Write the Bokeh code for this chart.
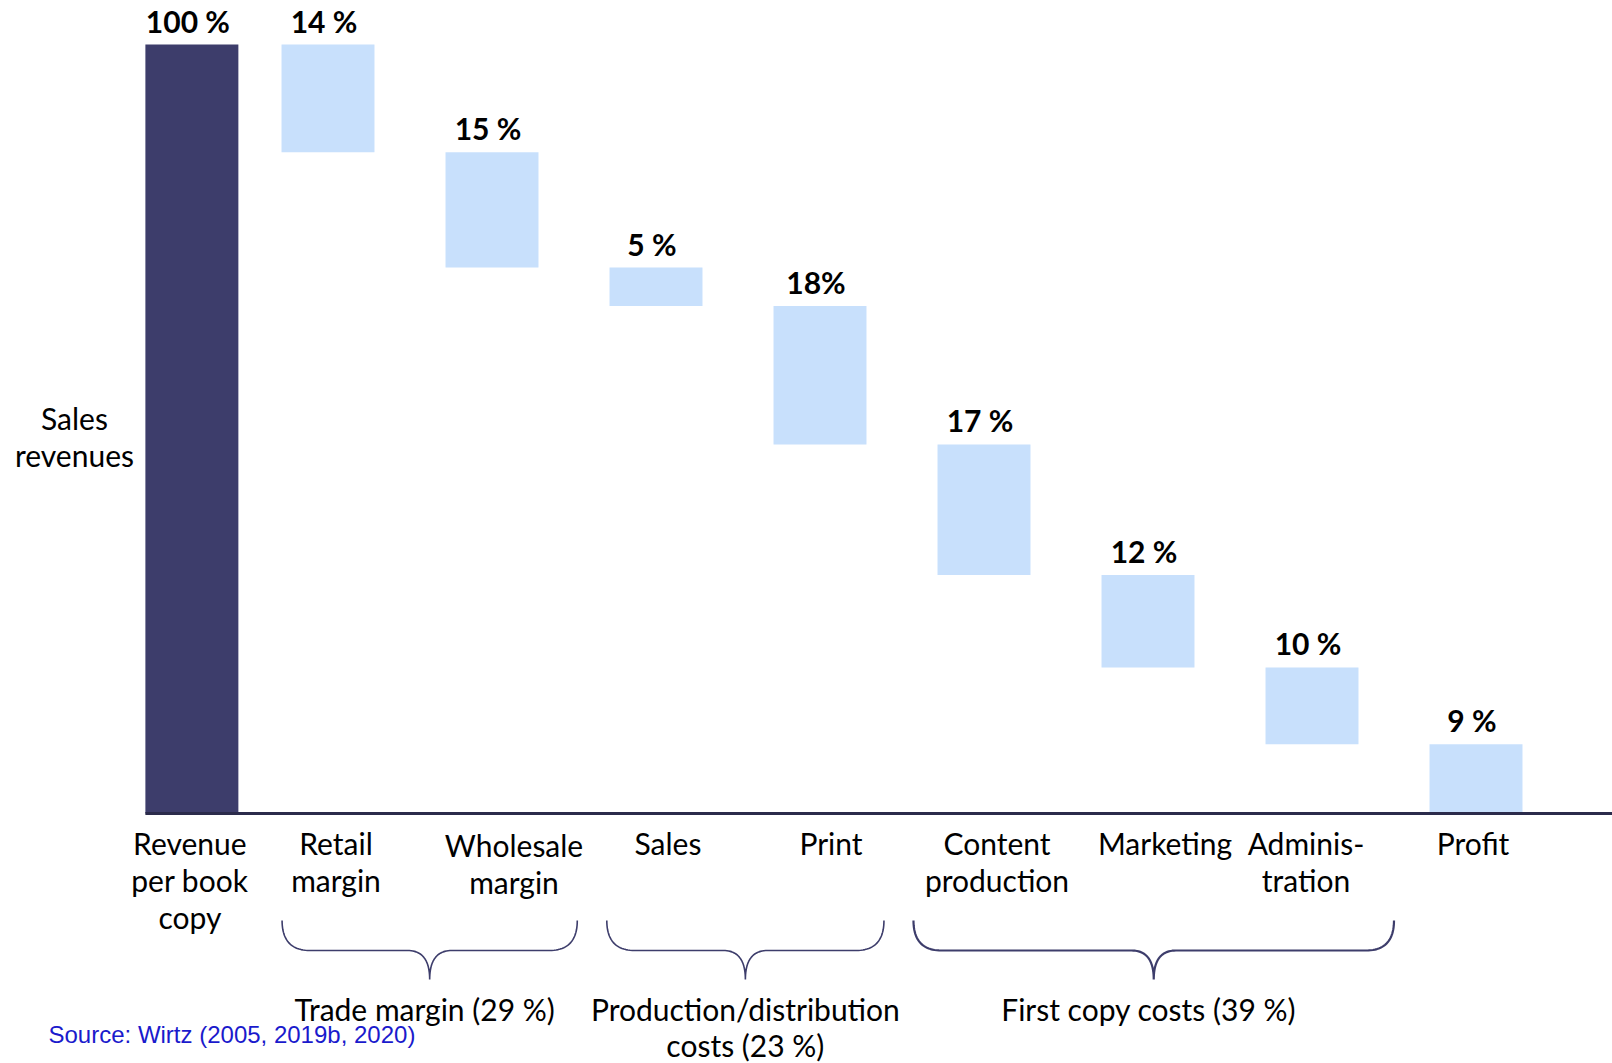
import numpy as np
from bokeh.plotting import figure
from bokeh.models import Range1d, ColumnDataSource
from bokeh.embed import file_html
from bokeh.resources import INLINE
from bokeh.core.properties import value

# ---- data -------------------------------------------------------------
categories = ["Revenue\nper book\ncopy", "Retail\nmargin", "Wholesale\nmargin",
              "Sales", "Print", "Content\nproduction", "Marketing",
              "Adminis-\ntration", "Profit"]
shares = [100, 14, 15, 5, 18, 17, 12, 10, 9]
share_labels = ["100 %", "14 %", "15 %", "5 %", "18%", "17 %", "12 %", "10 %", "9 %"]
group_names = ["Trade margin (29 %)", "Production/distribution\ncosts (23 %)",
               "First copy costs (39 %)"]
axis_title = "Sales\nrevenues"
source_note = "Source: Wirtz (2005, 2019b, 2020)"

# ---- layout -----------------------------------------------------------
W, H = 1612, 1063
PX_X, X0_PX = 164.0, 163.5      # pixels per category step, pixel of x = 0
PX_Y, Y0_PX = 7.69, 813.0       # pixels per percentage point, pixel of y = 0
x_pos = [0.17, 1, 2, 3, 4, 5, 6, 7, 8]
bar_w = 0.567
label_dx = [-2, 8, 22, 12, 11, 13, 17, -6, -3]       # category label nudges (px)
label_dy = [11, 11, 13, 11, 11, 11, 11, 11, 11]
brace_spans = [(0.72, 2.52), (2.70, 4.39), (4.57, 7.50)]
brace_widths = [1.6, 1.6, 2.2]
LINE_H = 1.04

DARK = "#3d3d6b"
LIGHT = "#c8e0fc"
FONT = "Lato"

# waterfall geometry
bottoms, tops, colors = [], [], []
level = shares[0]
for i, v in enumerate(shares):
    if i == 0:
        bottoms.append(0); tops.append(v); colors.append(DARK)
    elif i == len(shares) - 1:
        bottoms.append(0); tops.append(v); colors.append(LIGHT)
    else:
        tops.append(level); bottoms.append(level - v); colors.append(LIGHT)
        level -= v

src = ColumnDataSource(dict(x=x_pos, top=tops, bottom=bottoms, color=colors,
                            label=share_labels, cat=categories,
                            dx=label_dx, dy=label_dy))

p = figure(width=W, height=H, output_backend="svg", toolbar_location=None,
           x_axis_type=None, y_axis_type=None, min_border=0,
           x_range=Range1d(-X0_PX / PX_X, (W - X0_PX) / PX_X),
           y_range=Range1d(-(H - Y0_PX) / PX_Y, Y0_PX / PX_Y))
p.grid.visible = False
p.outline_line_color = None
p.background_fill_color = "white"
p.border_fill_color = "white"

p.vbar(x="x", top="top", bottom="bottom", width=bar_w, fill_color="color",
       line_color=None, source=src)

# baseline
p.segment(x0=[x_pos[0] - bar_w / 2], y0=[0], x1=[(W - X0_PX) / PX_X], y1=[0],
          line_color="#2b2b4b", line_width=3)

# value labels
p.text(x="x", y="top", text="label", source=src, x_offset=-4, y_offset=-24,
       text_align="center", text_baseline="middle", text_font=value(FONT),
       text_font_size="30px", text_font_style="bold", text_color="black")

# category labels
p.text(x="x", y=0, text="cat", source=src, x_offset="dx", y_offset="dy",
       text_align="center", text_baseline="top", text_font=value(FONT),
       text_font_size="30px", text_color="black", text_line_height=LINE_H)

# y title
p.text(x=[(74 - X0_PX) / PX_X], y=[(Y0_PX - 436) / PX_Y], text=[axis_title],
       text_align="center", text_baseline="middle", text_font=value(FONT),
       text_font_size="30px", text_color="black", text_line_height=LINE_H)

# group braces
y_top = (Y0_PX - 920) / PX_Y
y_mid = (Y0_PX - 950) / PX_Y
y_tip = (Y0_PX - 979) / PX_Y


def quad(a, c, b, n=24):
    t = np.linspace(0, 1, n)[:, None]
    pts = (1 - t) ** 2 * np.array(a) + 2 * (1 - t) * t * np.array(c) + t ** 2 * np.array(b)
    return pts


def brace(xl, xr, r_end=0.17, r_tip=0.135):
    xm = (xl + xr) / 2
    parts = [
        quad((xl, y_top), (xl, y_mid), (xl + r_end, y_mid)),
        quad((xm - r_tip, y_mid), (xm, y_mid), (xm, y_tip)),
        quad((xm, y_tip), (xm, y_mid), (xm + r_tip, y_mid)),
        quad((xr - r_end, y_mid), (xr, y_mid), (xr, y_top)),
    ]
    pts = np.vstack(parts)
    return list(pts[:, 0]), list(pts[:, 1])


for (xl, xr), lw in zip(brace_spans, brace_widths):
    bx, by = brace(xl, xr)
    p.line(bx, by, line_color=DARK, line_width=lw)

tips = [(a + b) / 2 for a, b in brace_spans]
p.text(x=tips, y=[y_tip] * 3, text=group_names, x_offset=[-5, 0, -5], y_offset=11,
       text_align="center", text_baseline="top", text_font=value(FONT),
       text_font_size="30px", text_color="black", text_line_height=1.0)

# source note
p.text(x=[(48 - X0_PX) / PX_X], y=[(Y0_PX - 1034) / PX_Y], text=[source_note],
       text_align="left", text_baseline="middle",
       text_font=value("Liberation Sans"), text_font_size="24px",
       text_color="#1a1acc")

open("out.html", "w").write(file_html(p, INLINE))
